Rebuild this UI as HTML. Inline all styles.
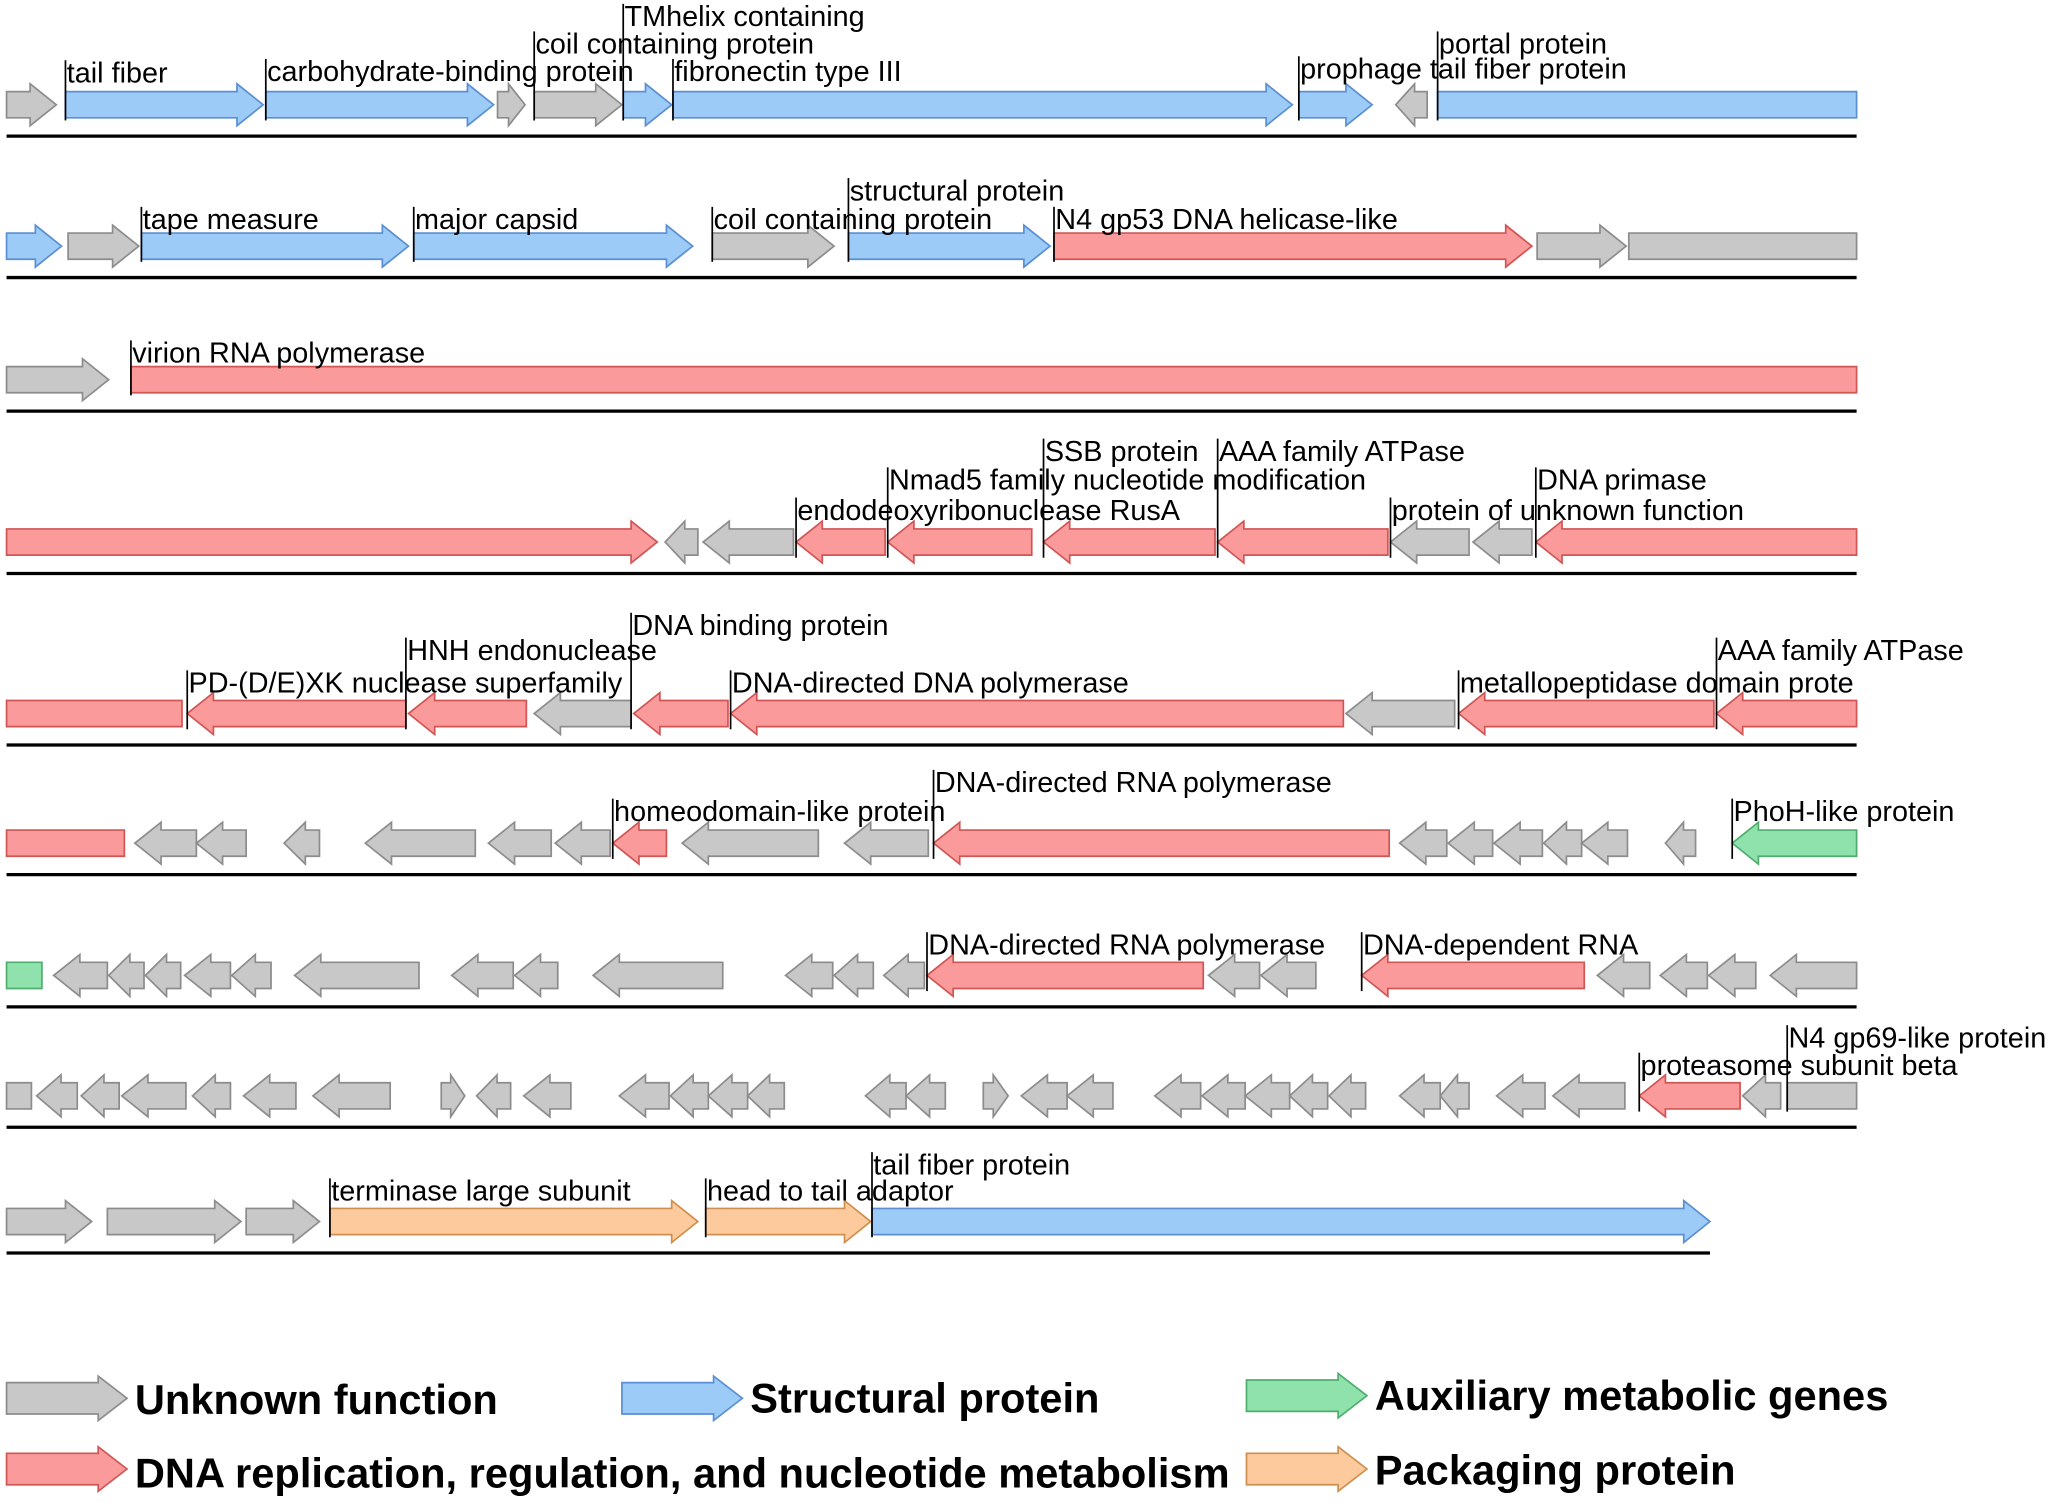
<!DOCTYPE html>
<html><head><meta charset="utf-8"><style>
html,body{margin:0;padding:0;background:#fff;}
svg{display:block;}
text{font-family:"Liberation Sans",Arial,sans-serif;}
</style></head><body>
<svg id="s" xmlns="http://www.w3.org/2000/svg" width="2053" height="1502" viewBox="0 0 1568 1147.2" preserveAspectRatio="none"></svg>
<script>
const C={g:["#c8c8c8","#8c8c8c"],b:["#9ccbf7","#5a8fd2"],r:["#fa9a9a","#d05555"],n:["#90e2ac","#4fae6e"],o:["#fcca9c","#cf8f4f"]};
let out="";
function arrow(x1,x2,cy,dir,c,bh,hh,hl){
  bh=bh||10;hh=hh||16;hl=hl||20;
  const [f,s]=C[c];let len=x2-x1;let h=Math.min(hl,len*0.6);let p;
  if(dir==="r"){p=[[x1,cy-bh],[x2-h,cy-bh],[x2-h,cy-hh],[x2,cy],[x2-h,cy+hh],[x2-h,cy+bh],[x1,cy+bh]];}
  else if(dir==="l"){p=[[x2,cy-bh],[x1+h,cy-bh],[x1+h,cy-hh],[x1,cy],[x1+h,cy+hh],[x1+h,cy+bh],[x2,cy+bh]];}
  else {p=[[x1,cy-bh],[x2,cy-bh],[x2,cy+bh],[x1,cy+bh]];}
  out+=`<polygon points="${p.map(q=>q.join(',')).join(' ')}" fill="${f}" stroke="${s}" stroke-width="1.3"/>`;
}
function lab(x,y,t,cy){out+=`<line x1="${x}" y1="${y-17}" x2="${x}" y2="${cy+12}" stroke="#000" stroke-width="1.3"/><text x="${x+1}" y="${y}" font-size="22">${t}</text>`;}
function line(y,x2){out+=`<line x1="5" y1="${y}" x2="${x2||1418}" y2="${y}" stroke="#000" stroke-width="2.5"/>`;}
function G(cy,list){list.forEach(a=>arrow(a[0],a[1],cy,a[2],a[3]||"g"));}
let cy=80;line(104);
G(cy,[[5,43,"r"],[50,201,"r","b"],[203,377,"r","b"],[380,401,"r"],[408,475,"r"],[476,513,"r","b"],[514,987,"r","b"],[992,1048,"r","b"],[1066,1090,"l"],[1098,1418,"n","b"]]);
lab(50,63,"tail fiber",cy);lab(203,62,"carbohydrate-binding protein",cy);lab(408,41,"coil containing protein",cy);lab(476,20,"TMhelix containing",cy);lab(514,62,"fibronectin type III",cy);lab(992,60,"prophage tail fiber protein",cy);lab(1098,41,"portal protein",cy);
cy=188;line(212);
G(cy,[[5,47,"r","b"],[52,106,"r"],[108,312,"r","b"],[316,529,"r","b"],[544,637,"r"],[648,802,"r","b"],[805,1170,"r","r"],[1174,1242,"r"],[1244,1418,"n"]]);
lab(108,175,"tape measure",cy);lab(316,175,"major capsid",cy);lab(544,175,"coil containing protein",cy);lab(648,153,"structural protein",cy);lab(805,175,"N4 gp53 DNA helicase-like",cy);
cy=290;line(314);
G(cy,[[5,83,"r"],[100,1418,"n","r"]]);lab(100,277,"virion RNA polymerase",cy);
cy=414;line(438);
G(cy,[[5,502,"r","r"],[508,533,"l"],[537,606,"l"],[608,676,"l","r"],[678,788,"l","r"],[797,928,"l","r"],[930,1060,"l","r"],[1062,1122,"l"],[1125,1170,"l"],[1173,1418,"l","r"]]);
lab(608,397,"endodeoxyribonuclease RusA",cy);lab(678,374,"Nmad5 family nucleotide modification",cy);lab(797,352,"SSB protein",cy);lab(930,352,"AAA family ATPase",cy);lab(1062,397,"protein of unknown function",cy);lab(1173,374,"DNA primase",cy);
cy=545;line(569);
G(cy,[[5,139,"n","r"],[143,310,"l","r"],[312,402,"l","r"],[408,482,"l"],[484,556,"l","r"],[558,1026,"l","r"],[1028,1111,"l"],[1114,1309,"l","r"],[1311,1418,"l","r"]]);
lab(143,529,"PD-(D/E)XK nuclease superfamily",cy);lab(310,504,"HNH endonuclease",cy);lab(482,485,"DNA binding protein",cy);lab(558,529,"DNA-directed DNA polymerase",cy);lab(1114,529,"metallopeptidase domain prote",cy);lab(1311,504,"AAA family ATPase",cy);
cy=644;line(668);
G(cy,[[5,95,"n","r"],[103,150,"l"],[150,188,"l"],[217,244,"l"],[279,363,"l"],[373,421,"l"],[424,466,"l"],[468,509,"l","r"],[521,625,"l"],[645,709,"l"],[713,1061,"l","r"],[1069,1105,"l"],[1106,1140,"l"],[1141,1178,"l"],[1179,1208,"l"],[1208,1243,"l"],[1272,1295,"l"],[1323,1418,"l","n"]]);
lab(468,627,"homeodomain-like protein",cy);lab(713,605,"DNA-directed RNA polymerase",cy);lab(1323,627,"PhoH-like protein",cy);
cy=745;line(769);
G(cy,[[5,32,"n","n"],[41,82,"l"],[83,110,"l"],[111,138,"l"],[141,176,"l"],[177,207,"l"],[225,320,"l"],[345,392,"l"],[393,426,"l"],[453,552,"l"],[600,636,"l"],[637,667,"l"],[675,706,"l"],[708,919,"l","r"],[923,962,"l"],[963,1005,"l"],[1040,1210,"l","r"],[1220,1260,"l"],[1268,1304,"l"],[1305,1341,"l"],[1352,1418,"l"]]);
lab(708,729,"DNA-directed RNA polymerase",cy);lab(1040,729,"DNA-dependent RNA",cy);
cy=837;line(861);
G(cy,[[5,24,"n"],[28,59,"l"],[62,91,"l"],[93,142,"l"],[147,176,"l"],[186,226,"l"],[239,298,"l"],[337,355,"r"],[364,390,"l"],[400,436,"l"],[473,511,"l"],[512,541,"l"],[541,571,"l"],[571,599,"l"],[661,692,"l"],[692,722,"l"],[751,770,"r"],[780,815,"l"],[815,850,"l"],[882,917,"l"],[918,951,"l"],[951,985,"l"],[985,1014,"l"],[1015,1043,"l"],[1069,1100,"l"],[1100,1122,"l"],[1143,1180,"l"],[1186,1241,"l"],[1252,1329,"l","r"],[1331,1360,"l"],[1365,1418,"n"]]);
lab(1252,821,"proteasome subunit beta",cy);lab(1365,800,"N4 gp69-like protein",cy);
cy=933;line(957,1306);
G(cy,[[5,70,"r"],[82,184,"r"],[188,244,"r"],[252,533,"r","o"],[539,665,"r","o"],[666,1306,"r","b"]]);
lab(252,917,"terminase large subunit",cy);lab(539,917,"head to tail adaptor",cy);lab(666,897,"tail fiber protein",cy);
arrow(5,97,1068,"r","g",12,17,22);arrow(475,567,1068,"r","b",12,17,22);arrow(952,1044,1066,"r","n",12,17,22);
arrow(5,97,1122,"r","r",12,17,22);arrow(952,1044,1122,"r","o",12,17,22);
const L=(x,y,t)=>out+=`<text x="${x}" y="${y}" font-size="31.8" font-weight="bold">${t}</text>`;
L(103,1080,"Unknown function");L(573,1079,"Structural protein");L(1050,1077,"Auxiliary metabolic genes");
L(103,1136,"DNA replication, regulation, and nucleotide metabolism");L(1050,1134,"Packaging protein");
document.getElementById("s").innerHTML=out;
</script>
</body></html>
